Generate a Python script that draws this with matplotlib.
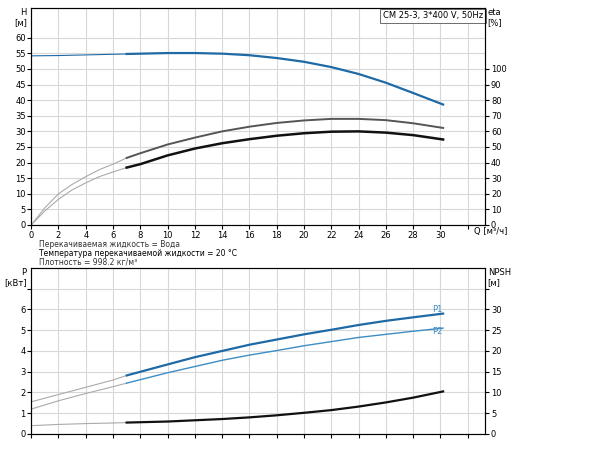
import numpy as np
import matplotlib.pyplot as plt

# Q-H curve
q_h = [0, 2, 4, 6, 7, 8, 10, 12, 14, 16, 18, 20, 22, 24, 26, 28, 30.2]
h = [54.2, 54.3, 54.5, 54.7, 54.8, 54.9, 55.1, 55.1, 54.9, 54.4, 53.5, 52.3, 50.6, 48.4, 45.6, 42.3, 38.6]
# efficiency curves [%]
q_eta = [0, 1, 2, 3, 4, 5, 6, 7, 8, 10, 12, 14, 16, 18, 20, 22, 24, 26, 28, 30.2]
eta_pump = [0, 11, 20, 26, 31, 35.5, 39, 43, 46, 51.6, 56, 60, 63, 65.4, 67, 68, 68, 67.2, 65.2, 62.2]
eta_tot = [0, 9, 16.5, 22.5, 27, 31, 34, 36.8, 39, 44.6, 49, 52.4, 55, 57.2, 58.8, 59.8, 60, 59.2, 57.6, 54.8]
# power and NPSH
q_p = [0, 2, 4, 6, 7, 10, 12, 14, 16, 18, 20, 22, 24, 26, 28, 30.2]
p1 = [1.55, 1.9, 2.25, 2.6, 2.82, 3.35, 3.7, 4.0, 4.3, 4.55, 4.8, 5.02, 5.25, 5.45, 5.62, 5.8]
p2 = [1.2, 1.6, 1.95, 2.28, 2.45, 2.95, 3.25, 3.55, 3.8, 4.02, 4.25, 4.45, 4.65, 4.8, 4.95, 5.1]
npsh = [2.0, 2.3, 2.5, 2.65, 2.75, 3.0, 3.3, 3.6, 4.0, 4.5, 5.1, 5.75, 6.6, 7.6, 8.75, 10.25]

blue = '#1f6aa5'
blue2 = '#3d8dc5'
thin = '#aaaaaa'


def split_plot(ax, x, y, color, lw, thin_color=thin, qmin=7):
    x = np.array(x)
    y = np.array(y)
    a = x <= qmin
    b = x >= qmin
    ax.plot(x[a], y[a], color=thin_color, lw=0.8)
    ax.plot(x[b], y[b], color=color, lw=lw)


def style(ax):
    ax.set_xlim(0, 33.3)
    ax.set_xticks(range(0, 33, 2))
    ax.set_xticklabels([str(i) for i in range(0, 31, 2)] + [''])
    ax.grid(color='#d8d8d8', lw=0.8)
    ax.tick_params(labelsize=6, length=3, pad=1)
    for s in ax.spines.values():
        s.set_color('#444444')
        s.set_linewidth(0.8)


fig = plt.figure(figsize=(6, 4.5), dpi=100)

ax1 = fig.add_axes([0.052, 0.5, 0.757, 0.482])
style(ax1)
ax1.set_ylim(0, 69.5)
ax1.set_yticks(range(0, 61, 5))
split_plot(ax1, q_h, h, blue, 1.6, thin_color=blue)
ax1b = ax1.twinx()
ax1b.set_ylim(0, 139)
ax1b.set_yticks(range(0, 101, 10))
ax1b.tick_params(labelsize=6, length=3, pad=1)
split_plot(ax1b, q_eta, eta_pump, '#555555', 1.4)
split_plot(ax1b, q_eta, eta_tot, '#111111', 1.8)
ax1.text(-0.01, 1.0, 'H\n[м]', transform=ax1.transAxes, ha='right', va='top', fontsize=6)
ax1b.text(1.005, 1.0, 'eta\n[%]', transform=ax1.transAxes, ha='left', va='top', fontsize=6)
ax1.text(0.975, -0.01, 'Q [м³/ч]', transform=ax1.transAxes, ha='left', va='top', fontsize=6)
ax1.text(0.995, 0.985, 'CM 25-3, 3*400 V, 50Hz', transform=ax1.transAxes, ha='right', va='top',
         fontsize=6, bbox=dict(facecolor='white', edgecolor='#555555', lw=0.6, pad=2))

fig.text(0.065, 0.452, 'Перекачиваемая жидкость = Вода', fontsize=5.5, color='#333333')
fig.text(0.065, 0.432, 'Температура перекачиваемой жидкости = 20 °C', fontsize=5.5)
fig.text(0.065, 0.412, 'Плотность = 998.2 кг/м³', fontsize=5.5, color='#333333')

ax2 = fig.add_axes([0.052, 0.0356, 0.757, 0.369])
style(ax2)
ax2.tick_params(labelbottom=False)
ax2.set_ylim(0, 8)
ax2.set_yticks(range(0, 8))
ax2.set_yticklabels([str(i) for i in range(7)] + [''])
split_plot(ax2, q_p, p1, blue, 1.6)
split_plot(ax2, q_p, p2, blue2, 1.0)
ax2.text(29.4, p1[-1] + 0.1, 'P1', color=blue2, fontsize=6)
ax2.text(29.4, p2[-1] - 0.3, 'P2', color=blue2, fontsize=6)
ax2b = ax2.twinx()
ax2b.set_ylim(0, 40)
ax2b.set_yticks(range(0, 36, 5))
ax2b.set_yticklabels([str(i) for i in range(0, 31, 5)] + [''])
ax2b.tick_params(labelsize=6, length=3, pad=1)
split_plot(ax2b, q_p, npsh, '#111111', 1.6)
ax2.text(-0.01, 1.0, 'P\n[кВт]', transform=ax2.transAxes, ha='right', va='top', fontsize=6)
ax2.text(1.005, 1.0, 'NPSH\n[м]', transform=ax2.transAxes, ha='left', va='top', fontsize=6)

fig.savefig('out.png', dpi=100)
